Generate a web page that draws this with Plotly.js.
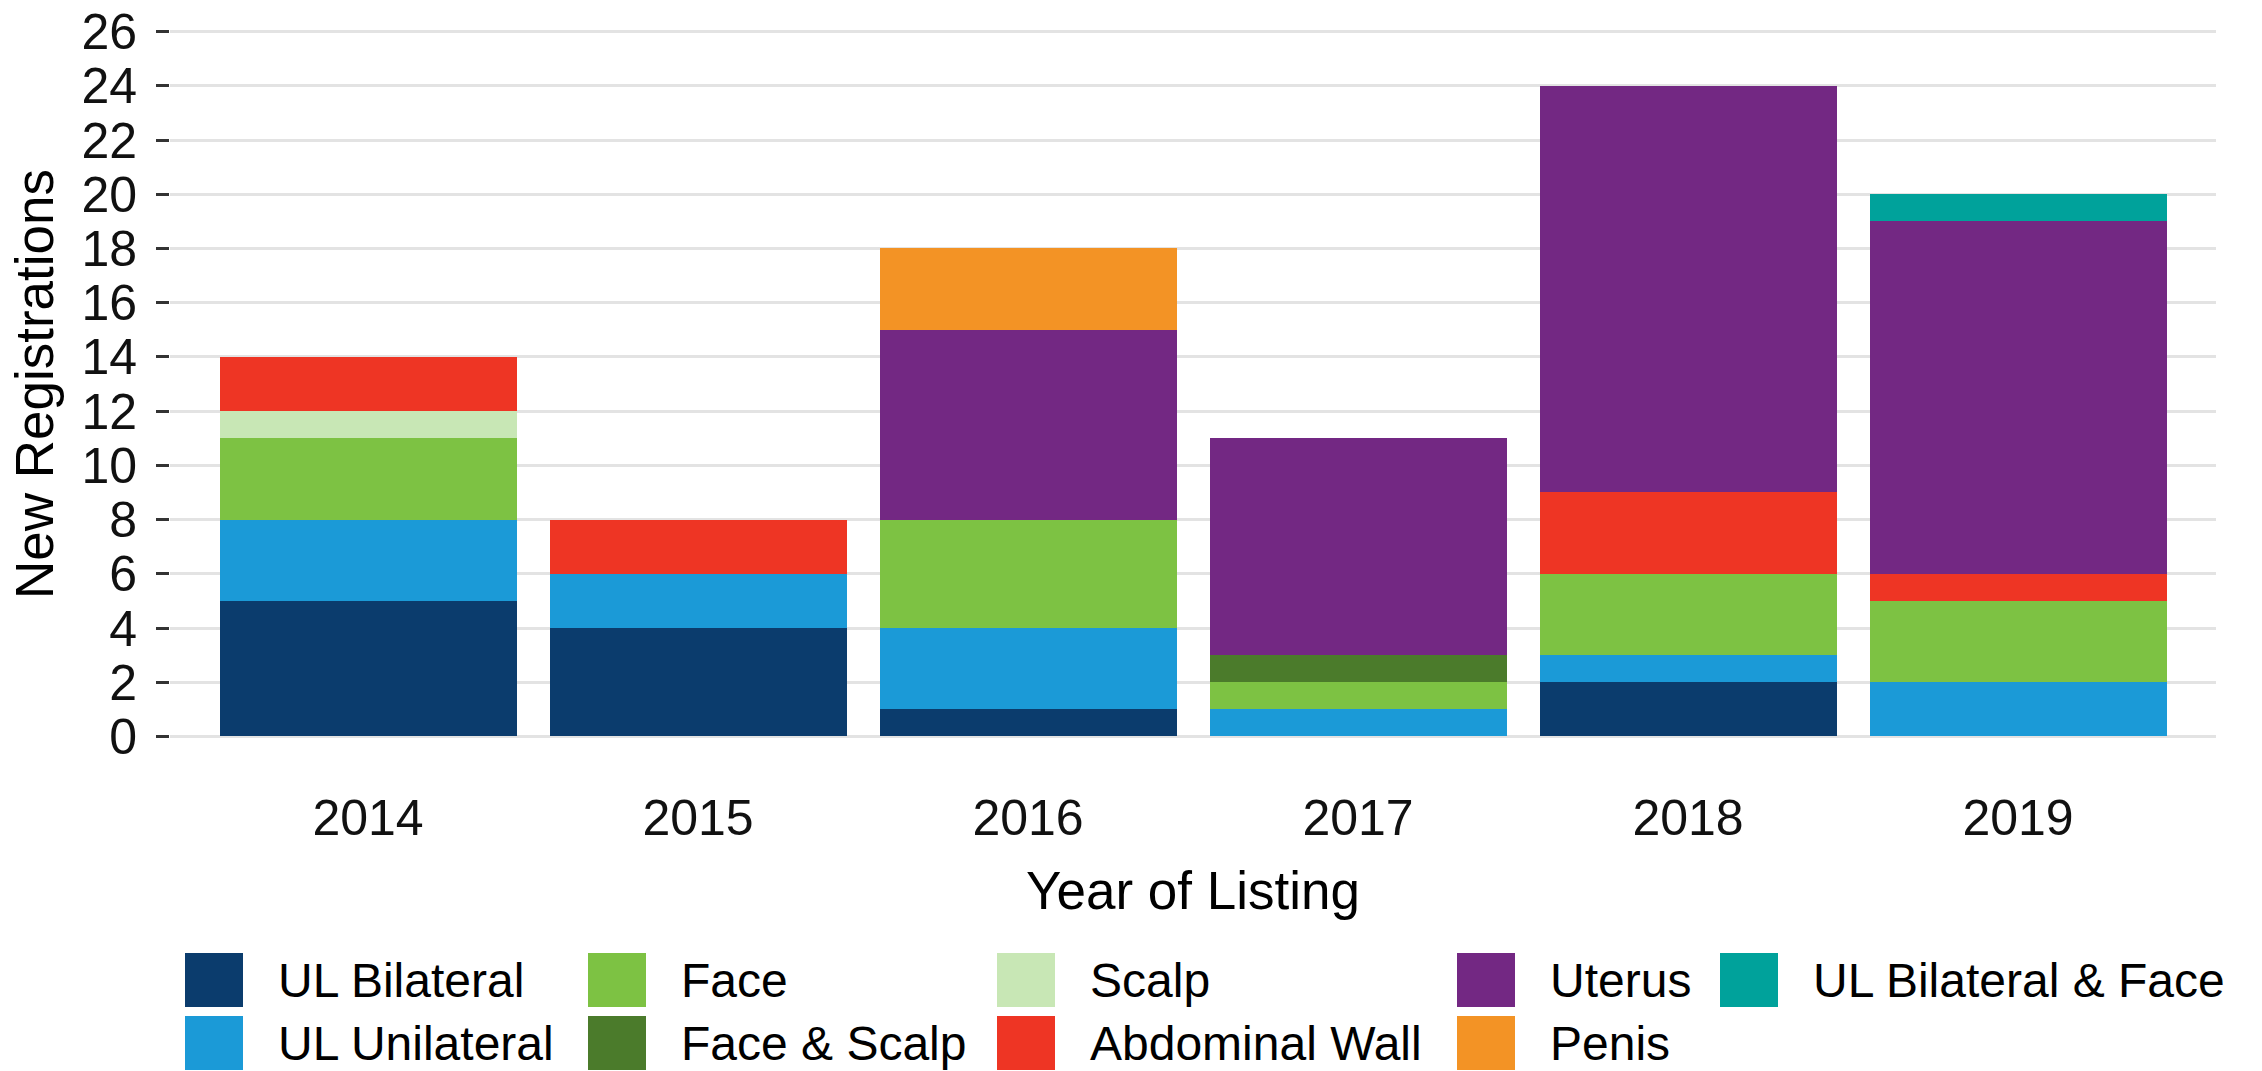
<!DOCTYPE html>
<html><head><meta charset="utf-8">
<script src="https://cdn.plot.ly/plotly-3.0.1.min.js"></script>
<style>html,body{margin:0;padding:0;background:#fff}</style>
</head><body><div id="chart" style="width:2262px;height:1071px"></div>
<script>
// ---- data ----
const years = ['2014', '2015', '2016', '2017', '2018', '2019'];
const seriesNames = ['UL Bilateral', 'UL Unilateral', 'Face', 'Face & Scalp', 'Scalp', 'Abdominal Wall', 'Uterus', 'Penis', 'UL Bilateral & Face'];
const ulBilateral     = [5, 4, 1, 0, 2, 0];
const ulUnilateral    = [3, 2, 3, 1, 1, 2];
const face            = [3, 0, 4, 1, 3, 3];
const faceScalp       = [0, 0, 0, 1, 0, 0];
const scalp           = [1, 0, 0, 0, 0, 0];
const abdominalWall   = [2, 2, 0, 0, 3, 1];
const uterus          = [0, 0, 7, 8, 15, 13];
const penis           = [0, 0, 3, 0, 0, 0];
const ulBilateralFace = [0, 0, 0, 0, 0, 1];
const yTickVals = [0, 2, 4, 6, 8, 10, 12, 14, 16, 18, 20, 22, 24, 26];
const xTitle = 'Year of Listing';
const yTitle = 'New Registrations';

// ---- style ----
const seriesValues = [ulBilateral, ulUnilateral, face, faceScalp, scalp, abdominalWall, uterus, penis, ulBilateralFace];
const colors = ['#0b3c6d', '#1b9ad7', '#7dc243', '#4b7b2b', '#c8e7b5', '#ee3524', '#732883', '#f39325', '#00a29b'];
const FONT = 'Liberation Sans, Arial, Helvetica, sans-serif';
const W = 2262, H = 1071;
const M = {l: 170, r: 46, t: 18, b: 321};
const plotW = W - M.l - M.r, plotH = H - M.t - M.b;

const traces = seriesNames.map((name, i) => ({
  type: 'bar',
  name: name,
  x: years,
  y: seriesValues[i],
  marker: {color: colors[i], line: {width: 0}},
  showlegend: false,
  hovertemplate: name + ': %{y}<extra>%{x}</extra>'
}));

// Manual legend (ggplot-like large keys), column-major order, 2 rows
const colLeft = [185, 588, 997, 1457, 1720];
const rowCenter = [980, 1043];
const keyW = 58, keyH = 54, textOffset = 91;
const px2x = px => (px - M.l) / plotW;
const px2y = py => (H - M.b - py) / plotH;
const shapes = [], annotations = [];
seriesNames.forEach((name, i) => {
  const c = Math.floor(i / 2), r = i % 2;
  const cx = colLeft[c], cy = rowCenter[r];
  shapes.push({type: 'rect', xref: 'paper', yref: 'paper',
    x0: px2x(cx), x1: px2x(cx + keyW), y0: px2y(cy + keyH / 2), y1: px2y(cy - keyH / 2),
    fillcolor: colors[i], line: {width: 0}, layer: 'above'});
  annotations.push({xref: 'paper', yref: 'paper', x: px2x(cx + textOffset), y: px2y(cy),
    xanchor: 'left', yanchor: 'middle', text: name, showarrow: false,
    font: {family: FONT, size: 48, color: '#000'}});
});

const layout = {
  width: W, height: H,
  margin: M,
  paper_bgcolor: '#fff', plot_bgcolor: '#fff',
  barmode: 'stack', bargap: 0.1,
  font: {family: FONT, color: '#000'},
  showlegend: false,
  xaxis: {
    type: 'category', range: [-0.6, 5.6],
    showgrid: false, zeroline: false, showline: false, ticks: '',
    tickfont: {family: FONT, size: 50, color: '#111'},
    ticklabelstandoff: 34,
    title: {text: xTitle, font: {family: FONT, size: 53, color: '#000'}, standoff: 26},
    fixedrange: true
  },
  yaxis: {
    range: [-0.5, 26.5],
    tickvals: yTickVals, ticktext: yTickVals.map(String),
    showgrid: true, gridcolor: '#e3e3e3', gridwidth: 2.5,
    zeroline: false, showline: false,
    ticks: 'outside', ticklen: 13, tickwidth: 3, tickcolor: '#333',
    tickfont: {family: FONT, size: 50, color: '#111'},
    ticklabelstandoff: 9,
    title: {text: yTitle, font: {family: FONT, size: 53, color: '#000'}, standoff: 10},
    fixedrange: true
  },
  shapes: shapes,
  annotations: annotations
};

Plotly.newPlot('chart', traces, layout, {displayModeBar: false, staticPlot: false});
</script>
</body></html>
